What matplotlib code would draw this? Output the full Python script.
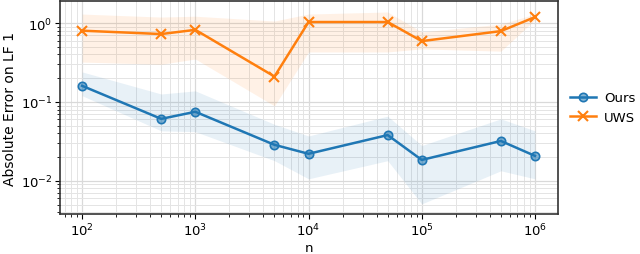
import matplotlib
matplotlib.use("Agg")
import matplotlib.pyplot as plt
import numpy as np

N = [100, 500, 1000, 5000, 10000, 50000, 100000, 500000, 1000000]

OURS = [0.16, 0.061, 0.075, 0.0286, 0.022, 0.038, 0.0184, 0.032, 0.0207]
OURS_LO = [0.12, 0.043, 0.042, 0.018, 0.0106, 0.018, 0.0051, 0.0134, 0.0106]
OURS_HI = [0.24, 0.126, 0.138, 0.052, 0.037, 0.066, 0.028, 0.061, 0.043]

UWS = [0.80, 0.725, 0.82, 0.21, 1.03, 1.03, 0.59, 0.79, 1.19]
UWS_LO = [0.32, 0.30, 0.35, 0.089, 0.43, 0.43, 0.47, 0.44, 1.10]
UWS_HI = [1.30, 1.19, 1.22, 1.06, 1.30, 1.38, 0.77, 0.97, 1.30]

BLUE = "#1f77b4"
ORANGE = "#ff7f0e"


def main():
    fig = plt.figure(figsize=(6.4, 2.55), dpi=100)
    ax = fig.add_axes([0.094, 0.157, 0.778, 0.835])

    ax.fill_between(N, OURS_LO, OURS_HI, color=BLUE, alpha=0.1, lw=0, zorder=1)
    ax.fill_between(N, UWS_LO, UWS_HI, color=ORANGE, alpha=0.1, lw=0, zorder=1)
    ax.plot(N, OURS, color=BLUE, marker="o", ms=6, mfc=(0.12, 0.47, 0.71, 0.55),
            mec=BLUE, mew=1.2, lw=1.8, label="Ours", zorder=3)
    ax.plot(N, UWS, color=ORANGE, marker="x", ms=7.5, mew=1.5, lw=1.8,
            label="UWS", zorder=3)

    ax.set_xscale("log")
    ax.set_yscale("log")
    ax.set_xlim(64, 1.6e6)
    ax.set_ylim(3.8e-3, 1.9)
    ax.grid(which="major", color="#d9d9d9", lw=0.9, zorder=0)
    ax.grid(which="minor", color="#e4e4e4", lw=0.7, zorder=0)
    ax.set_axisbelow(True)
    for s in ax.spines.values():
        s.set_color("#333333")
        s.set_linewidth(1.2)

    ax.set_xlabel("n", fontsize=9.5, labelpad=2)
    ax.set_ylabel("Absolute Error on LF 1", fontsize=10, labelpad=3)
    ax.tick_params(labelsize=9.5, pad=2)
    ax.legend(loc="center left", bbox_to_anchor=(1.0, 0.5), frameon=False,
              fontsize=9.5, handlelength=2, handletextpad=0.6)

    fig.savefig("out.png", dpi=100)


if __name__ == "__main__":
    main()
